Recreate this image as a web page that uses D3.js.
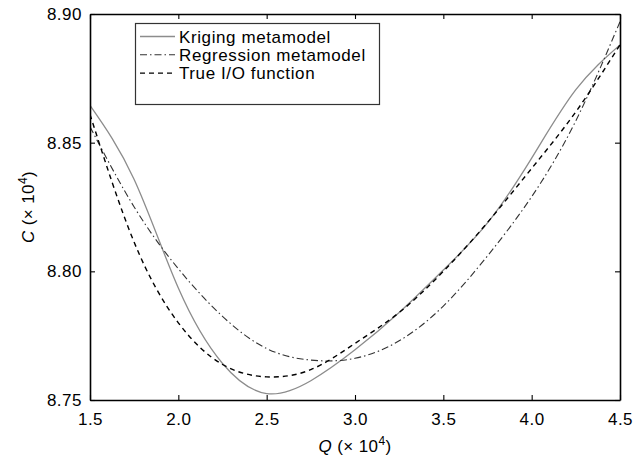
<!DOCTYPE html>
<html>
<head>
<meta charset="utf-8">
<script src="https://cdn.jsdelivr.net/npm/d3@7"></script>
<style>
    body { margin: 0; background: #fff; }
    text { font-family: "Liberation Sans", Arial, sans-serif; fill: #000; }
</style>
</head>
<body>
<div id="chart"></div>
<script>
// values (Q and C both in units of 10^4)
const qValues = [1.5, 1.75, 2.0, 2.25, 2.5, 2.75, 3.0, 3.25, 3.5, 3.75, 4.0, 4.25, 4.5];
const kriging = [8.8645, 8.8357, 8.7935, 8.7642, 8.7525, 8.7575, 8.7695, 8.7840, 8.8005, 8.8188, 8.8440, 8.8706, 8.8880];
const regression = [8.8562, 8.8250, 8.8010, 8.7825, 8.7700, 8.7655, 8.7662, 8.7730, 8.7865, 8.8060, 8.8290, 8.8585, 8.8970];
const trueIO = [8.8610, 8.8113, 8.7800, 8.7638, 8.7590, 8.7618, 8.7720, 8.7840, 8.8000, 8.8190, 8.8400, 8.8620, 8.8880];

const xTicks = [1.5, 2.0, 2.5, 3.0, 3.5, 4.0, 4.5];
const yTicks = [8.75, 8.80, 8.85, 8.90];

const series = [
    { name: "Kriging metamodel", values: kriging, color: "#8c8c8c", dash: null, width: 1.3 },
    { name: "Regression metamodel", values: regression, color: "#333", dash: "7,3,1.5,3", width: 1.1 },
    { name: "True I/O function", values: trueIO, color: "#000", dash: "5,4", width: 1.4 }
];

const W = 642, H = 461;
const margin = { top: 14, right: 22, bottom: 61, left: 90 };

const svg = d3.select("#chart").append("svg")
    .attr("width", W)
    .attr("height", H);

const x = d3.scaleLinear().domain([1.5, 4.5]).range([margin.left, W - margin.right]);
const y = d3.scaleLinear().domain([8.75, 8.90]).range([H - margin.bottom, margin.top]);

const line = d3.line()
    .x(d => x(d[0]))
    .y(d => y(d[1]))
    .curve(d3.curveNatural);

// curves
svg.append("clipPath").attr("id", "plot-clip")
    .append("rect")
    .attr("x", x(1.5)).attr("y", y(8.90))
    .attr("width", x(4.5) - x(1.5)).attr("height", y(8.75) - y(8.90));

const curves = svg.append("g").attr("clip-path", "url(#plot-clip)");
for (const s of series) {
    curves.append("path")
        .datum(qValues.map((q, i) => [q, s.values[i]]))
        .attr("fill", "none")
        .attr("stroke", s.color)
        .attr("stroke-width", s.width)
        .attr("stroke-dasharray", s.dash)
        .attr("d", line);
}

// axes, ticks inside on all four sides
const tickLen = 5;
const axisB = svg.append("g").attr("transform", `translate(0,${y(8.75)})`)
    .call(d3.axisBottom(x).tickValues(xTicks).tickSizeInner(-tickLen).tickSizeOuter(0).tickPadding(13).tickFormat(d3.format(".1f")));
const axisT = svg.append("g").attr("transform", `translate(0,${y(8.90)})`)
    .call(d3.axisTop(x).tickValues(xTicks).tickSizeInner(-tickLen).tickSizeOuter(0).tickFormat(""));
const axisL = svg.append("g").attr("transform", `translate(${x(1.5)},0)`)
    .call(d3.axisLeft(y).tickValues(yTicks).tickSizeInner(-tickLen).tickSizeOuter(0).tickPadding(13).tickFormat(d3.format(".2f")));
const axisR = svg.append("g").attr("transform", `translate(${x(4.5)},0)`)
    .call(d3.axisRight(y).tickValues(yTicks).tickSizeInner(-tickLen).tickSizeOuter(0).tickFormat(""));

for (const g of [axisB, axisT, axisL, axisR]) {
    g.select(".domain").attr("stroke", "#000").attr("stroke-width", 1.6);
    g.selectAll(".tick line").attr("stroke", "#000").attr("stroke-width", 1.1);
    g.selectAll(".tick text")
        .attr("font-family", "Liberation Sans, Arial, sans-serif")
        .attr("font-size", 17)
        .attr("letter-spacing", 0.5)
        .attr("fill", "#000");
}
axisL.selectAll(".tick text").attr("dx", 5);

// axis titles
const xTitle = svg.append("text")
    .attr("x", (x(1.5) + x(4.5)) / 2)
    .attr("y", 452)
    .attr("text-anchor", "middle")
    .attr("font-size", 17)
    .attr("letter-spacing", 0.4);
xTitle.append("tspan").attr("font-style", "italic").text("Q");
xTitle.append("tspan").text(" (× 10");
xTitle.append("tspan").attr("font-size", 12).attr("dy", -7).text("4");
xTitle.append("tspan").attr("dy", 7).text(")");

const yTitle = svg.append("text")
    .attr("transform", `translate(34,${(y(8.75) + y(8.90)) / 2}) rotate(-90)`)
    .attr("text-anchor", "middle")
    .attr("font-size", 17)
    .attr("letter-spacing", 0.4);
yTitle.append("tspan").attr("font-style", "italic").text("C");
yTitle.append("tspan").text(" (× 10");
yTitle.append("tspan").attr("font-size", 12).attr("dy", -7).text("4");
yTitle.append("tspan").attr("dy", 7).text(")");

// legend
const legend = svg.append("g");
legend.append("rect")
    .attr("x", 135.5).attr("y", 23.5)
    .attr("width", 244).attr("height", 81)
    .attr("fill", "#fff")
    .attr("stroke", "#333")
    .attr("stroke-width", 1.2);

series.forEach((s, i) => {
    const ly = 36.5 + i * 18.3;
    legend.append("line")
        .attr("x1", 140).attr("x2", 175)
        .attr("y1", ly).attr("y2", ly)
        .attr("stroke", s.color)
        .attr("stroke-width", s.width)
        .attr("stroke-dasharray", s.dash);
    legend.append("text")
        .attr("x", 179)
        .attr("y", ly + 6)
        .attr("font-size", 17)
        .attr("letter-spacing", 0.6)
        .text(s.name);
});
</script>
</body>
</html>
